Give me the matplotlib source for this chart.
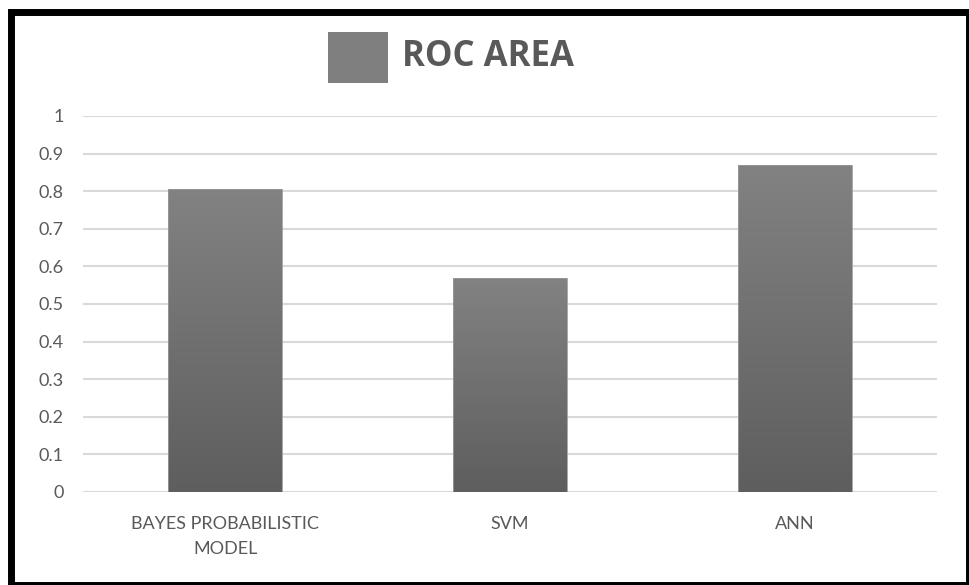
import numpy as np
import matplotlib
matplotlib.use("Agg")
import matplotlib.pyplot as plt
from matplotlib.patches import Rectangle
from matplotlib.colors import LinearSegmentedColormap

categories = ["BAYES PROBABILISTIC\nMODEL", "SVM", "ANN"]
roc_area = [0.806, 0.569, 0.870]
y_ticks = [0, 0.1, 0.2, 0.3, 0.4, 0.5, 0.6, 0.7, 0.8, 0.9, 1]
y_tick_labels = ["0", "0.1", "0.2", "0.3", "0.4", "0.5", "0.6", "0.7", "0.8", "0.9", "1"]
series_name = "ROC AREA"

text_grey = "#595959"
grid_grey = "#d9d9d9"

W, H = 970, 585
fig = plt.figure(figsize=(W / 100, H / 100), dpi=100)
fig.patch.set_facecolor("white")

ax = fig.add_axes([83 / W, 1 - 492 / H, (937 - 83) / W, (492 - 116) / H])
ax.set_xlim(-0.5, len(categories) - 0.5)
ax.set_ylim(0, 1)

for s in ax.spines.values():
    s.set_visible(False)
ax.set_yticks(y_ticks)
ax.set_yticklabels(y_tick_labels)
ax.set_xticks(range(len(categories)))
ax.set_xticklabels(categories, linespacing=1.7)
ax.tick_params(axis="both", length=0, colors=text_grey, labelsize=13)
ax.tick_params(axis="y", pad=14)
ax.tick_params(axis="x", pad=17)
for lbl in ax.get_xticklabels() + ax.get_yticklabels():
    lbl.set_fontfamily("Lato")
ax.grid(axis="y", color=grid_grey, linewidth=1.5)
ax.set_axisbelow(True)

# vertical gradient fill inside each bar: lighter at top, darker at base
cmap = LinearSegmentedColormap.from_list("bar_grad", ["#5e5e5e", "#828282"])
bar_width = 0.4
bars = ax.bar(range(len(categories)), roc_area, width=bar_width,
              facecolor="none", edgecolor="#9a9a9a", linewidth=0.6, zorder=3)
grad = np.linspace(0, 1, 256).reshape(-1, 1)
for rect in bars:
    x0 = rect.get_x()
    h = rect.get_height()
    im = ax.imshow(grad, cmap=cmap, origin="lower", aspect="auto",
                   extent=(x0, x0 + rect.get_width(), 0, h), zorder=2)
    im.set_clip_path(rect)

# legend entry at the top
fig.patches.append(Rectangle((328 / W, 1 - 83 / H), 60 / W, 51 / H,
                             transform=fig.transFigure, facecolor="#7f7f7f",
                             edgecolor="none"))
fig.text(402 / W, 1 - 57 / H, series_name, fontsize=25, fontweight="bold",
         fontfamily="Open Sans", color=text_grey, va="center", ha="left")

# black frame around the chart (right and bottom edges run off the canvas)
left, top, right, bottom = 11.5, 11.5, 969.5, 584.5
fig.patches.append(Rectangle((left / W, 1 - bottom / H), (right - left) / W,
                             (bottom - top) / H,
                             transform=fig.transFigure, facecolor="none",
                             edgecolor="black", linewidth=5))

fig.savefig("out.png", dpi=100)
